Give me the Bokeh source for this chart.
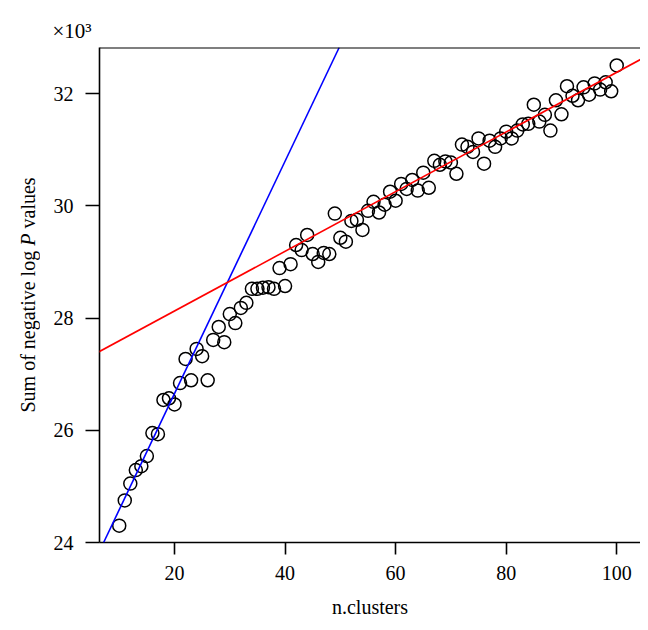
import math
from bokeh.plotting import figure
from bokeh.layouts import row
from bokeh.models import (Range1d, FixedTicker, Slope, Span, Title, ColumnDataSource)
from bokeh.core.properties import value
from bokeh.embed import file_html
from bokeh.resources import INLINE

# ---- data (sum of negative log P values, in thousands) ----
n_clusters = list(range(10, 101))
sum_neg_log_p_k = [
    24.30, 24.75, 25.05, 25.29, 25.36, 25.54, 25.95, 25.93, 26.54, 26.57,   # 10-19
    26.46, 26.84, 27.27, 26.89, 27.45, 27.32, 26.89, 27.61, 27.84, 27.57,   # 20-29
    28.07, 27.91, 28.18, 28.27, 28.52, 28.52, 28.54, 28.55, 28.52, 28.89,   # 30-39
    28.57, 28.96, 29.30, 29.21, 29.48, 29.14, 29.00, 29.16, 29.14, 29.86,   # 40-49
    29.43, 29.36, 29.73, 29.75, 29.57, 29.91, 30.07, 29.88, 30.02, 30.25,   # 50-59
    30.09, 30.39, 30.30, 30.46, 30.27, 30.59, 30.32, 30.80, 30.73, 30.79,   # 60-69
    30.77, 30.57, 31.09, 31.05, 30.96, 31.20, 30.75, 31.16, 31.05, 31.20,   # 70-79
    31.32, 31.20, 31.34, 31.45, 31.46, 31.80, 31.50, 31.62, 31.34, 31.88,   # 80-89
    31.63, 32.13, 31.96, 31.88, 32.11, 31.98, 32.18, 32.07, 32.20, 32.04,   # 90-99
    32.50,                                                                  # 100
]

# fitted lines: [early-cluster fit (blue), overall fit (red)]
fit_slopes = [0.207, 0.05316]
fit_intercepts = [22.514, 27.062]
fit_colors = ["#0000ff", "#ff0000"]

x_ticks = [20, 40, 60, 80, 100]
y_ticks = [24, 26, 28, 30, 32]

# y-axis title pieces (the P is italic)
ylabel_parts = ["Sum of negative log", "P", "values"]
ylabel_styles = ["normal", "italic", "normal"]

FONT = "Liberation Serif"
H = 622
LAB_W = 40
B_TOP, B_BOTTOM = 47, 80

# ---------- narrow panel holding the rotated y-axis title ----------
# its frame lines up with the main frame; y coordinate = pixels measured up from the page bottom
lab = figure(width=LAB_W, height=H, output_backend="svg", toolbar_location=None,
             x_range=Range1d(0, LAB_W), y_range=Range1d(B_BOTTOM, H - B_TOP),
             x_axis_type=None, y_axis_type=None,
             min_border_left=0, min_border_right=0,
             min_border_top=B_TOP, min_border_bottom=B_BOTTOM)
lab.outline_line_color = None
lab.grid.visible = False

part_pos = [210.0, 376.7, 394.0]   # pixel offsets along the rotated line
for txt, style, pos in zip(ylabel_parts, ylabel_styles, part_pos):
    lab.text(x=[27], y=[pos], text=[txt], angle=math.pi / 2,
             text_font=value(FONT), text_font_size="20px", text_font_style=style,
             text_align="left", text_baseline="middle", text_color="black")

# ---------- main plot ----------
p = figure(width=640 - LAB_W, height=H, output_backend="svg", toolbar_location=None,
           x_range=Range1d(6.43, 104.3), y_range=Range1d(24.0, 32.82),
           min_border_left=99 - LAB_W, min_border_right=0,
           min_border_top=B_TOP, min_border_bottom=B_BOTTOM)
p.outline_line_color = None
p.grid.visible = False
p.background_fill_color = "white"

p.add_layout(Title(text="\u00d710\u00b3", align="left", offset=-(99 - 52), standoff=9,
                   text_font=FONT, text_font_size="21px", text_font_style="normal",
                   text_color="black"), "above")

src = ColumnDataSource(dict(x=n_clusters, y=sum_neg_log_p_k))
p.scatter("x", "y", source=src, marker="circle", size=13, fill_color=None,
          line_color="black", line_width=1.5)

for s, b, c in zip(fit_slopes, fit_intercepts, fit_colors):
    p.add_layout(Slope(gradient=s, y_intercept=b, line_color=c, line_width=1.6))

p.add_layout(Span(location=32.82, dimension="width", line_color="black", line_width=2))

for ax in (p.xaxis[0], p.yaxis[0]):
    ax.axis_line_width = 1.6
    ax.axis_line_color = "black"
    ax.major_tick_line_width = 1.6
    ax.major_tick_in = 0
    ax.minor_tick_line_color = None
    ax.major_label_text_font = FONT
    ax.major_label_text_font_size = "20px"
    ax.major_label_text_color = "black"

p.xaxis.ticker = FixedTicker(ticks=x_ticks)
p.yaxis.ticker = FixedTicker(ticks=y_ticks)
p.xaxis.major_tick_out = 12
p.yaxis.major_tick_out = 14
p.xaxis.major_label_standoff = 11
p.yaxis.major_label_standoff = 12

p.xaxis.axis_label = "n.clusters"
p.xaxis.axis_label_text_font = FONT
p.xaxis.axis_label_text_font_size = "20px"
p.xaxis.axis_label_text_font_style = "normal"
p.xaxis.axis_label_text_color = "black"
p.xaxis.axis_label_standoff = 13

layout = row(lab, p, spacing=0)
open("out.html", "w").write(file_html(layout, INLINE))
